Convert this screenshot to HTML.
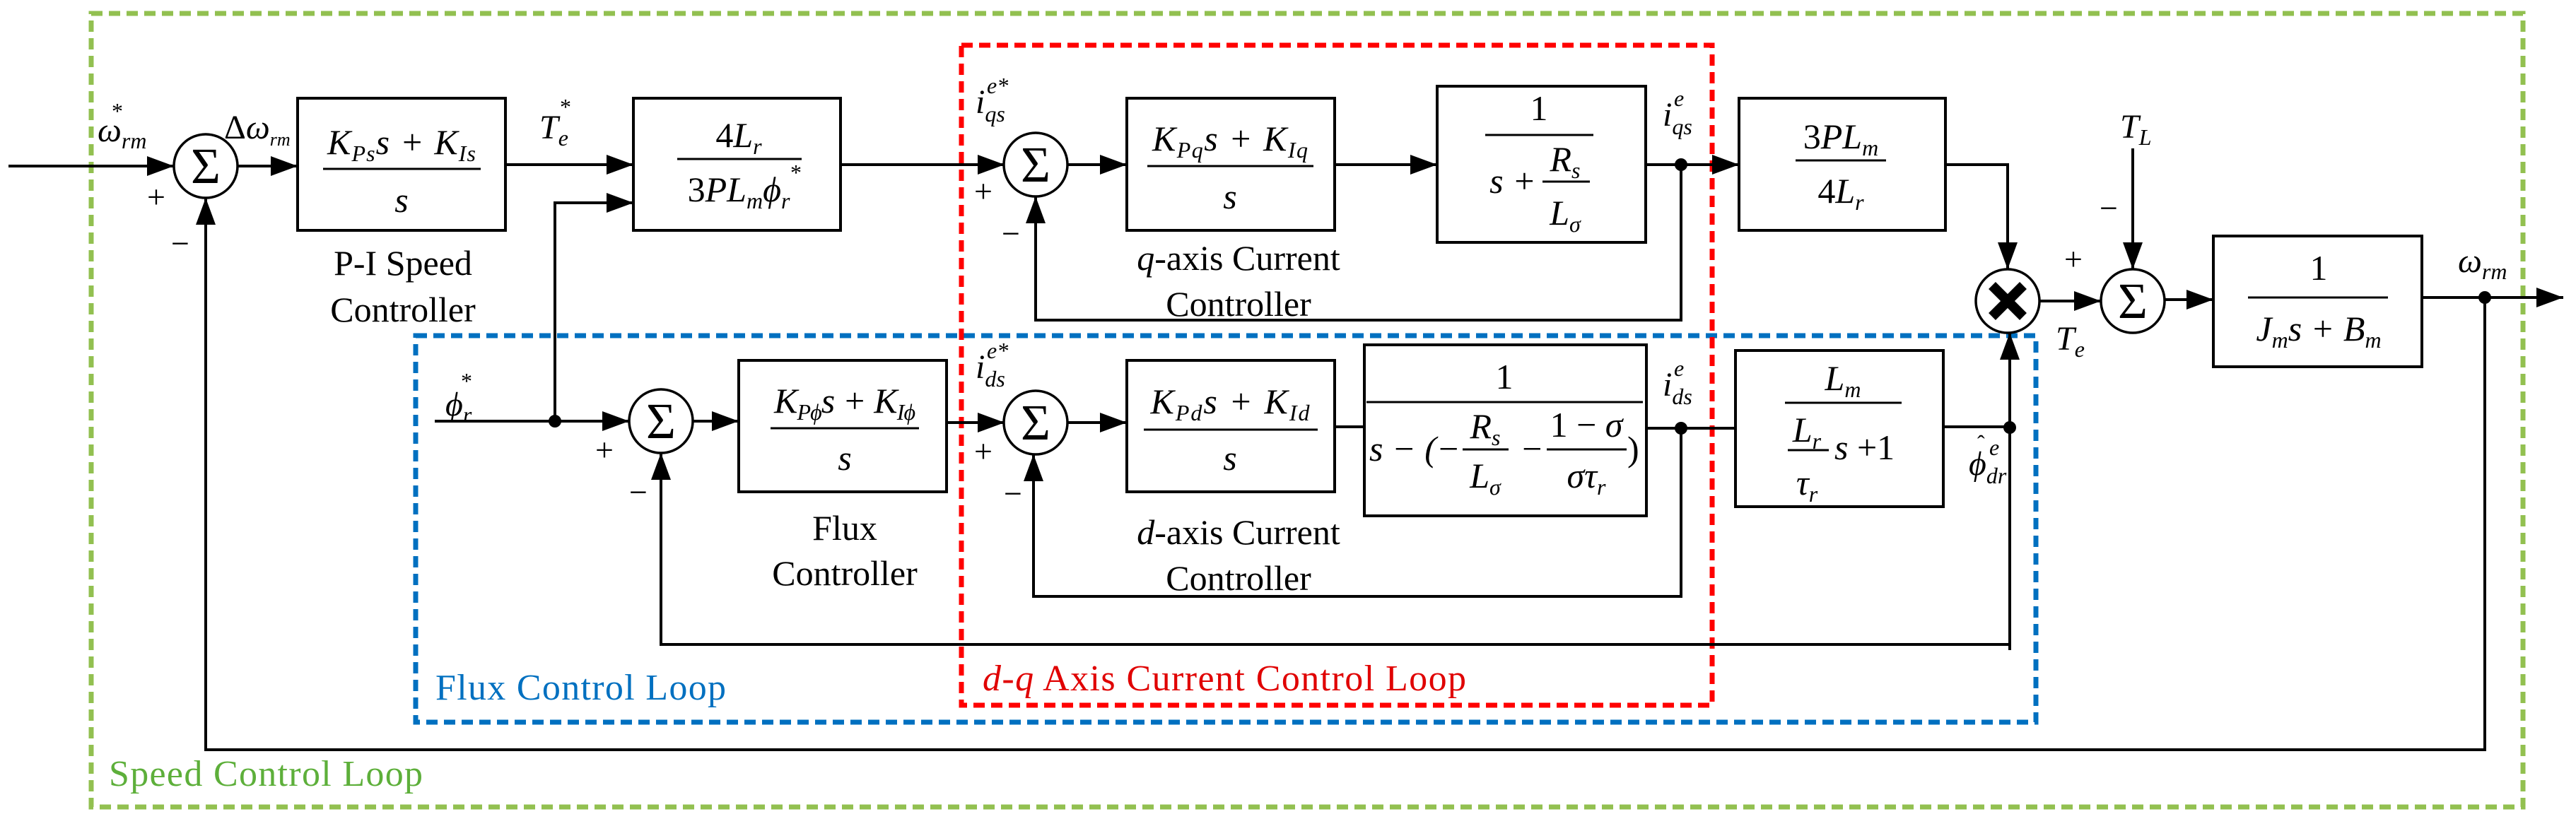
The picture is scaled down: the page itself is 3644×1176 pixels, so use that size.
<!DOCTYPE html>
<html><head><meta charset="utf-8"><style>
html,body{margin:0;padding:0;background:#fff;}
svg{display:block;}
svg, svg text{font-family:"Liberation Serif","DejaVu Serif","Noto Serif CJK SC",serif;}
text{fill:#000;}
.m{font-style:italic;}
.b{fill:none;stroke:#000;stroke-width:4;}
.l{fill:none;stroke:#000;stroke-width:4;}
</style></head><body>
<svg width="3644" height="1176" viewBox="0 0 3644 1176" xmlns="http://www.w3.org/2000/svg" font-family="Liberation Serif, DejaVu Serif, serif">
<defs>
<marker id="a" markerWidth="40" markerHeight="30" refX="38" refY="14" orient="auto" markerUnits="userSpaceOnUse"><path d="M0,0 L38,14 L0,28z" fill="#000"/></marker>
</defs>

<rect x="129" y="19" width="3440" height="1123" fill="none" stroke="#92C050" stroke-width="7" stroke-dasharray="16 9"/>
<rect x="588" y="475" width="2292" height="547" fill="none" stroke="#0070C0" stroke-width="7" stroke-dasharray="16 9"/>
<rect x="1360" y="64" width="1062" height="934" fill="none" stroke="#FF0000" stroke-width="7" stroke-dasharray="16 9"/>

<path class="l" d="M12,235 H246" marker-end="url(#a)"/>
<path class="l" d="M336,235 H421" marker-end="url(#a)"/>
<path class="l" d="M715,233 H896" marker-end="url(#a)"/>
<path class="l" d="M785,596 V287 H896" marker-end="url(#a)"/>
<path class="l" d="M1189,233 H1421" marker-end="url(#a)"/>
<path class="l" d="M1509,233 H1594" marker-end="url(#a)"/>
<path class="l" d="M1888,233 H2033" marker-end="url(#a)"/>
<path class="l" d="M2328,233 H2460" marker-end="url(#a)"/>
<path class="l" d="M2378,233 V453 H1465 V278" marker-end="url(#a)"/>
<path class="l" d="M2752,233 H2840 V381" marker-end="url(#a)"/>
<path class="l" d="M615,596 H890" marker-end="url(#a)"/>
<path class="l" d="M980,596 H1045" marker-end="url(#a)"/>
<path class="l" d="M1339,598 H1421" marker-end="url(#a)"/>
<path class="l" d="M1509,598 H1594" marker-end="url(#a)"/>
<path class="l" d="M1888,604 H1930"/>
<path class="l" d="M2329,606 H2455"/>
<path class="l" d="M2378,606 V844 H1462 V643" marker-end="url(#a)"/>
<path class="l" d="M2749,604 H2843"/>
<path class="l" d="M2843,920 V471" marker-end="url(#a)"/>
<path class="l" d="M2843,912 H935 V641" marker-end="url(#a)"/>
<path class="l" d="M2885,426 H2972" marker-end="url(#a)"/>
<path class="l" d="M3017,210 V381" marker-end="url(#a)"/>
<path class="l" d="M3062,424 H3131" marker-end="url(#a)"/>
<path class="l" d="M3426,421 H3626" marker-end="url(#a)"/>
<path class="l" d="M3515,421 V1061 H291 V280" marker-end="url(#a)"/>

<circle cx="785" cy="596" r="9"/>
<circle cx="2378" cy="233" r="9"/>
<circle cx="2378" cy="606" r="9"/>
<circle cx="2843" cy="605" r="9"/>
<circle cx="3515" cy="421" r="9"/>

<g fill="#fff" stroke="#000" stroke-width="3.5">
<circle cx="291" cy="235" r="45"/>
<circle cx="935" cy="596" r="45"/>
<circle cx="1465" cy="233" r="45"/>
<circle cx="1465" cy="598" r="45"/>
<circle cx="3017" cy="426" r="45"/>
<circle cx="2840" cy="426" r="45"/>
</g>
<g font-size="72" text-anchor="middle">
<text x="291" y="259">Σ</text>
<text x="935" y="620">Σ</text>
<text x="1465" y="257">Σ</text>
<text x="1465" y="622">Σ</text>
<text x="3017" y="450">Σ</text>
</g>
<path d="M2818,404 L2862,448 M2862,404 L2818,448" stroke="#000" stroke-width="14"/>

<rect class="b" x="421" y="139" width="294" height="187"/>
<rect class="b" x="896" y="139" width="293" height="187"/>
<rect class="b" x="1045" y="510" width="294" height="186"/>
<rect class="b" x="1594" y="139" width="294" height="187"/>
<rect class="b" x="2033" y="122" width="295" height="221"/>
<rect class="b" x="1594" y="510" width="294" height="186"/>
<rect class="b" x="1930" y="488" width="399" height="242"/>
<rect class="b" x="2460" y="139" width="292" height="187"/>
<rect class="b" x="2455" y="496" width="294" height="221"/>
<rect class="b" x="3131" y="334" width="295" height="185"/>

<g stroke="#000" stroke-width="3">
<line x1="457" y1="239" x2="680" y2="239"/>
<line x1="958" y1="225" x2="1134" y2="225"/>
<line x1="1090" y1="606" x2="1300" y2="606"/>
<line x1="1623" y1="235" x2="1858" y2="235"/>
<line x1="2101" y1="191" x2="2254" y2="191"/>
<line x1="2182" y1="257" x2="2249" y2="257"/>
<line x1="1618" y1="608" x2="1864" y2="608"/>
<line x1="1933" y1="569" x2="2324" y2="569"/>
<line x1="2069" y1="636" x2="2134" y2="636"/>
<line x1="2188" y1="636" x2="2301" y2="636"/>
<line x1="2540" y1="227" x2="2668" y2="227"/>
<line x1="2525" y1="570" x2="2690" y2="570"/>
<line x1="2529" y1="637" x2="2587" y2="637"/>
<line x1="3180" y1="421" x2="3378" y2="421"/>
</g>

<g font-size="50" class="m">
<text x="568" y="218" text-anchor="middle" textLength="210">K<tspan font-size="32" dy="10">Ps</tspan><tspan dy="-10">s + K</tspan><tspan font-size="32" dy="10">Is</tspan></text>
<text x="568" y="300" text-anchor="middle">s</text>
<text x="1045" y="208" text-anchor="middle"><tspan font-style="normal">4</tspan>L<tspan font-size="32" dy="10">r</tspan></text>
<text x="1045" y="285" text-anchor="middle"><tspan font-style="normal">3</tspan>PL<tspan font-size="32" dy="10">m</tspan><tspan dy="-10">ϕ</tspan><tspan font-size="32" dy="10">r</tspan></text>
<text x="1118" y="255" font-size="32" font-style="normal">*</text>
<text x="1195" y="584" text-anchor="middle" textLength="200">K<tspan font-size="32" dy="10">Pϕ</tspan><tspan dy="-10">s + K</tspan><tspan font-size="32" dy="10">Iϕ</tspan></text>
<text x="1195" y="665" text-anchor="middle">s</text>
<text x="1740" y="213" text-anchor="middle" textLength="220">K<tspan font-size="32" dy="10">Pq</tspan><tspan dy="-10">s + K</tspan><tspan font-size="32" dy="10">Iq</tspan></text>
<text x="1740" y="295" text-anchor="middle">s</text>
<text x="2177" y="170" text-anchor="middle" font-style="normal">1</text>
<text x="2140" y="273" text-anchor="middle">s +</text>
<text x="2214" y="242" text-anchor="middle">R<tspan font-size="32" dy="10">s</tspan></text>
<text x="2214" y="318" text-anchor="middle">L<tspan font-size="32" dy="10">σ</tspan></text>
<text x="1740" y="585" text-anchor="middle" textLength="225">K<tspan font-size="32" dy="10">Pd</tspan><tspan dy="-10">s + K</tspan><tspan font-size="32" dy="10">Id</tspan></text>
<text x="1740" y="665" text-anchor="middle">s</text>
<text x="2128" y="550" text-anchor="middle" font-style="normal">1</text>
<text x="1937" y="652">s − (−</text>
<text x="2101" y="620" text-anchor="middle">R<tspan font-size="32" dy="10">s</tspan></text>
<text x="2101" y="690" text-anchor="middle">L<tspan font-size="32" dy="10">σ</tspan></text>
<text x="2150" y="652">−</text>
<text x="2244" y="618" text-anchor="middle"><tspan font-style="normal">1 − </tspan>σ</text>
<text x="2244" y="690" text-anchor="middle">στ<tspan font-size="32" dy="10">r</tspan></text>
<text x="2302" y="652" font-style="normal">)</text>
<text x="2604" y="210" text-anchor="middle"><tspan font-style="normal">3</tspan>PL<tspan font-size="32" dy="10">m</tspan></text>
<text x="2604" y="287" text-anchor="middle"><tspan font-style="normal">4</tspan>L<tspan font-size="32" dy="10">r</tspan></text>
<text x="2607" y="552" text-anchor="middle">L<tspan font-size="32" dy="10">m</tspan></text>
<text x="2556" y="625" text-anchor="middle">L<tspan font-size="32" dy="10">r</tspan></text>
<text x="2556" y="700" text-anchor="middle">τ<tspan font-size="32" dy="10">r</tspan></text>
<text x="2595" y="650">s <tspan font-style="normal">+1</tspan></text>
<text x="3280" y="396" text-anchor="middle" font-style="normal">1</text>
<text x="3280" y="482" text-anchor="middle">J<tspan font-size="32" dy="10">m</tspan><tspan dy="-10">s + B</tspan><tspan font-size="32" dy="10">m</tspan></text>
</g>

<g font-size="48" class="m">
<text x="138" y="200">ω<tspan font-size="32" dy="10">rm</tspan></text>
<text x="158" y="168" font-size="32" font-style="normal">*</text>
<text x="317" y="196"><tspan font-style="normal">Δ</tspan>ω<tspan font-size="26" dy="10">rm</tspan></text>
<text x="763" y="196">T<tspan font-size="32" dy="10">e</tspan></text>
<text x="792" y="162" font-size="32" font-style="normal">*</text>
<text x="630" y="588">ϕ<tspan font-size="32" dy="10">r</tspan></text>
<text x="652" y="550" font-size="32" font-style="normal">*</text>
<text x="1380" y="160">i<tspan font-size="32" dy="12">qs</tspan></text>
<text x="1396" y="132" font-size="32">e*</text>
<text x="1380" y="535">i<tspan font-size="32" dy="12">ds</tspan></text>
<text x="1396" y="507" font-size="32">e*</text>
<text x="2352" y="178">i<tspan font-size="32" dy="12">qs</tspan></text>
<text x="2368" y="150" font-size="32">e</text>
<text x="2352" y="560">i<tspan font-size="32" dy="12">ds</tspan></text>
<text x="2368" y="532" font-size="32">e</text>
<text x="2785" y="672">ϕ<tspan font-size="32" dy="12">dr</tspan></text>
<text x="2797" y="638" font-size="32" font-style="normal">ˆ</text>
<text x="2814" y="644" font-size="32">e</text>
<text x="2908" y="495">T<tspan font-size="32" dy="10">e</tspan></text>
<text x="2999" y="195">T<tspan font-size="32" dy="10">L</tspan></text>
<text x="3477" y="385">ω<tspan font-size="32" dy="10">rm</tspan></text>
</g>
<g font-size="46">
<text x="208" y="294">+</text>
<text x="242" y="360">−</text>
<text x="842" y="652">+</text>
<text x="890" y="712">−</text>
<text x="1378" y="286">+</text>
<text x="1417" y="346">−</text>
<text x="1378" y="654">+</text>
<text x="1420" y="714">−</text>
<text x="2920" y="382">+</text>
<text x="2970" y="310">−</text>
</g>

<g font-size="50" text-anchor="middle">
<text x="570" y="389">P-I   Speed</text>
<text x="570" y="455">Controller</text>
<text x="1195" y="764">Flux</text>
<text x="1195" y="828">Controller</text>
<text x="1752" y="382"><tspan font-style="italic">q</tspan>-axis Current</text>
<text x="1752" y="447">Controller</text>
<text x="1752" y="770"><tspan font-style="italic">d</tspan>-axis Current</text>
<text x="1752" y="835">Controller</text>
</g>
<text x="616" y="990" font-size="52" style="fill:#0070C0" textLength="411">Flux Control Loop</text>
<text x="154" y="1112" font-size="52" style="fill:#5DAF3A" textLength="444">Speed Control Loop</text>
<text x="1390" y="977" font-size="52" style="fill:#E00000" textLength="684"><tspan font-style="italic">d-q</tspan> Axis Current Control Loop</text>
</svg>
</body></html>
